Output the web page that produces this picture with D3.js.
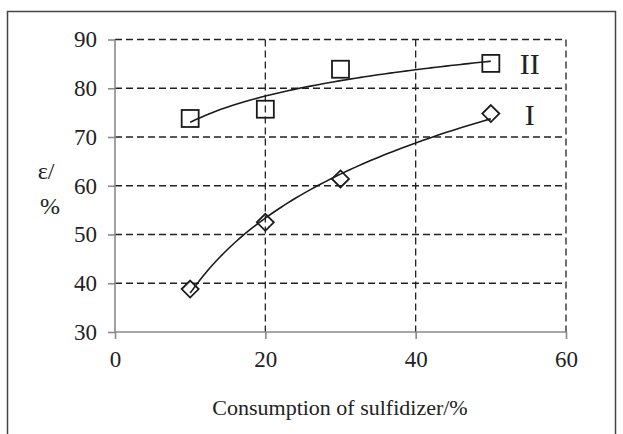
<!DOCTYPE html>
<html>
<head>
<meta charset="utf-8">
<script src="https://cdn.jsdelivr.net/npm/d3@7"></script>
<style>
	body { margin: 0; background: #fff; }
	svg text { font-family: "Liberation Serif", "Times New Roman", serif; fill: #222; }
</style>
</head>
<body>
<div id="chart"></div>
<script>
// sulfidizer consumption, %
var dosage = [10, 20, 30, 50];
// recovery, %
var recoveryI = [38.8, 52.5, 61.4, 74.8];
var recoveryII = [73.8, 75.7, 83.9, 85.1];
var seriesNames = ["I", "II"];
var xTicks = [0, 20, 40, 60];
var yTicks = [30, 40, 50, 60, 70, 80, 90];

var W = 623, H = 434;
var margin = {top: 39.5, right: 57, bottom: 102, left: 115};
var width = W - margin.left - margin.right;
var height = H - margin.top - margin.bottom;

var svg = d3.select("#chart").append("svg")
	.attr("width", W)
	.attr("height", H);

// frame around the figure (bottom edge is cut off)
svg.append("rect")
	.attr("x", 7.5).attr("y", 11.5)
	.attr("width", 608).attr("height", 440)
	.attr("fill", "none")
	.attr("stroke", "#444")
	.attr("stroke-width", 1.5);

var g = svg.append("g")
	.attr("transform", "translate(" + margin.left + "," + margin.top + ")");

var x = d3.scaleLinear().domain([0, 60]).range([0, width]);
var y = d3.scaleLinear().domain([30, 90]).range([height, 0]);

// dashed grid
g.selectAll(".hgrid")
	.data(yTicks.filter(d => d > 30))
	.join("line")
	.attr("x1", 0).attr("x2", width)
	.attr("y1", d => y(d)).attr("y2", d => y(d))
	.attr("stroke", "#222").attr("stroke-width", 1.3)
	.attr("stroke-dasharray", "7,4");

g.selectAll(".vgrid")
	.data(xTicks.filter(d => d > 0))
	.join("line")
	.attr("x1", d => x(d)).attr("x2", d => x(d))
	.attr("y1", 0).attr("y2", height)
	.attr("stroke", "#222").attr("stroke-width", 1.3)
	.attr("stroke-dasharray", "7,4");

// axes
var xAxis = d3.axisBottom(x).tickValues(xTicks).tickSize(7).tickPadding(12);
var yAxis = d3.axisLeft(y).tickValues(yTicks).tickSize(7).tickPadding(11);

var gx = g.append("g")
	.attr("transform", "translate(0," + height + ")")
	.call(xAxis);
var gy = g.append("g").call(yAxis);

[gx, gy].forEach(function(a) {
	a.attr("font-family", "Liberation Serif, serif").attr("font-size", 23);
	a.select(".domain").attr("stroke", "#8a8a8a").attr("stroke-width", 1.6);
	a.selectAll(".tick line").attr("stroke", "#8a8a8a").attr("stroke-width", 1.6);
	a.selectAll(".tick text").attr("fill", "#222");
});
gx.select(".domain").attr("d", "M0,0H" + width);
gy.select(".domain").attr("d", "M0," + height + "V0");

// logarithmic trend line, least squares fit y = a ln x + b
function logFit(xs, ys) {
	var lx = xs.map(Math.log);
	var mx = d3.mean(lx), my = d3.mean(ys);
	var sxy = d3.sum(lx, (v, i) => (v - mx) * (ys[i] - my));
	var sxx = d3.sum(lx, v => (v - mx) * (v - mx));
	var a = sxy / sxx;
	return v => a * Math.log(v) + (my - a * mx);
}

var line = d3.line()
	.x(d => x(d[0]))
	.y(d => y(d[1]))
	.curve(d3.curveBasis);

var series = [
	{name: seriesNames[0], values: recoveryI, shape: "diamond"},
	{name: seriesNames[1], values: recoveryII, shape: "square"}
];

var xmin = d3.min(dosage), xmax = d3.max(dosage);
series.forEach(function(s) {
	var f = logFit(dosage, s.values);
	var pts = d3.range(0, 41).map(i => {
		var xv = xmin + (xmax - xmin) * i / 40;
		return [xv, f(xv)];
	});
	g.append("path")
		.attr("d", line(pts))
		.attr("fill", "none")
		.attr("stroke", "#1a1a1a")
		.attr("stroke-width", 1.6);
});

// markers
series.forEach(function(s) {
	var pts = dosage.map((d, i) => [d, s.values[i]]);
	if (s.shape === "square") {
		g.selectAll(null)
			.data(pts)
			.join("rect")
			.attr("x", d => x(d[0]) - 8.5)
			.attr("y", d => y(d[1]) - 8.5)
			.attr("width", 17).attr("height", 17)
			.attr("fill", "none")
			.attr("stroke", "#1a1a1a")
			.attr("stroke-width", 1.8);
	} else {
		g.selectAll(null)
			.data(pts)
			.join("path")
			.attr("d", d => {
				var cx = x(d[0]), cy = y(d[1]), r = 8.5;
				return "M" + cx + "," + (cy - r) + "L" + (cx + r) + "," + cy +
					"L" + cx + "," + (cy + r) + "L" + (cx - r) + "," + cy + "Z";
			})
			.attr("fill", "none")
			.attr("stroke", "#1a1a1a")
			.attr("stroke-width", 1.8);
	}

	// series label next to the last point
	var last = pts[pts.length - 1];
	g.append("text")
		.attr("x", x(last[0]) + 39)
		.attr("y", y(last[1]) + 11)
		.attr("text-anchor", "middle")
		.style("font-size", "30px")
		.text(s.name);
});

// axis titles
svg.append("text")
	.attr("x", 340)
	.attr("y", 415)
	.attr("text-anchor", "middle")
	.style("font-size", "22px")
	.text("Consumption of sulfidizer/%");

svg.append("text")
	.attr("x", 46)
	.attr("y", 179)
	.attr("text-anchor", "middle")
	.style("font-size", "24px")
	.text("ε/");
svg.append("text")
	.attr("x", 50)
	.attr("y", 214)
	.attr("text-anchor", "middle")
	.style("font-size", "24px")
	.text("%");
</script>
</body>
</html>
